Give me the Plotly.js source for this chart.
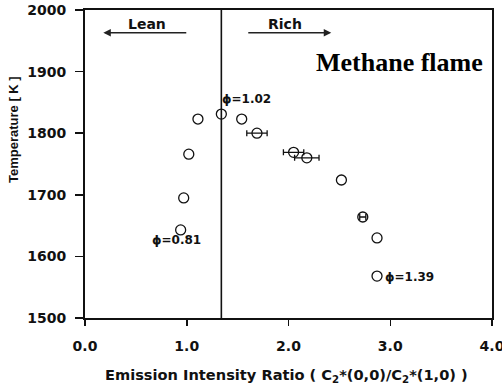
<!DOCTYPE html>
<html>
<head>
<meta charset="utf-8">
<script src="https://cdn.plot.ly/plotly-3.0.1.min.js"></script>
<style>
  html, body { margin: 0; padding: 0; background: #fff; }
  #chart { width: 502px; height: 392px; }
</style>
</head>
<body>
<div id="chart"></div>
<script>
// Emission intensity ratio C2*(0,0)/C2*(1,0) vs flame temperature, methane flame
const ratio = [0.94, 0.97, 1.02, 1.11, 1.34, 1.54, 1.69, 2.05, 2.18, 2.52, 2.73, 2.87, 2.87];
const temperature = [1643, 1695, 1766, 1823, 1831, 1823, 1800, 1769, 1760, 1724, 1664, 1630, 1568];
const ratioErr = [0, 0, 0, 0, 0, 0, 0.10, 0.10, 0.12, 0, 0.03, 0, 0];

// stoichiometric boundary between lean and rich mixtures
const stoichRatio = 1.34;

// equivalence-ratio labels
const phiLabels = ['\u03d5=0.81', '\u03d5=1.02', '\u03d5=1.39'];
const phiX = [0.90, 1.59, 3.19];
const phiY = [1627, 1856, 1567];

const xTicks = [0, 1, 2, 3, 4];
const xTickText = ['0.0', '1.0', '2.0', '3.0', '4.0'];
const yTicks = [1500, 1600, 1700, 1800, 1900, 2000];

const heavy = 'DejaVu Sans, Verdana, sans-serif';
const tickFont = { family: heavy, size: 14, color: '#111' };
const labelFont = { family: heavy, size: 12, color: '#111' };

// points with and without horizontal error bars
const withErr = ratio.map((_, i) => i).filter(i => ratioErr[i] > 0);
const noErr = ratio.map((_, i) => i).filter(i => !(ratioErr[i] > 0));
const marker = { symbol: 'circle-open', size: 10, color: '#111', line: { width: 1.3, color: '#111' } };

const traces = [
  {
    x: noErr.map(i => ratio[i]), y: noErr.map(i => temperature[i]),
    type: 'scatter', mode: 'markers', marker: marker
  },
  {
    x: withErr.map(i => ratio[i]), y: withErr.map(i => temperature[i]),
    type: 'scatter', mode: 'markers', marker: marker,
    error_x: { type: 'data', array: withErr.map(i => ratioErr[i]), visible: true,
               color: '#111', thickness: 1.3, width: 3 }
  }
];

const annotations = phiLabels.map((t, i) => ({
  x: phiX[i], y: phiY[i], xref: 'x', yref: 'y', xanchor: 'center', yanchor: 'middle',
  text: '<b>' + t + '</b>', showarrow: false, font: labelFont
}));

const W = 502, H = 392, mL = 85, mR = 10, mT = 10, mB = 74;
const pw = W - mL - mR, ph = H - mT - mB;

annotations.push(
  // lean side arrow
  { x: 0.18, y: 1963, ax: 1.01, ay: 1963, xref: 'x', yref: 'y', axref: 'x', ayref: 'y',
    text: '', showarrow: true, arrowhead: 2, arrowsize: 1, arrowwidth: 1.5, arrowcolor: '#222' },
  { x: 0.61, y: 1978, xref: 'x', yref: 'y', xanchor: 'center', yanchor: 'middle',
    text: '<b>Lean</b>', showarrow: false, font: { family: heavy, size: 14, color: '#111' } },
  // rich side arrow
  { x: 2.42, y: 1963, ax: 1.59, ay: 1963, xref: 'x', yref: 'y', axref: 'x', ayref: 'y',
    text: '', showarrow: true, arrowhead: 2, arrowsize: 1, arrowwidth: 1.5, arrowcolor: '#222' },
  { x: 1.97, y: 1978, xref: 'x', yref: 'y', xanchor: 'center', yanchor: 'middle',
    text: '<b>Rich</b>', showarrow: false, font: { family: heavy, size: 14, color: '#111' } },
  { x: 3.93, y: 1914, xref: 'x', yref: 'y', xanchor: 'right', yanchor: 'middle',
    text: '<b>Methane flame</b>', showarrow: false,
    font: { family: 'Liberation Serif, Times New Roman, serif', size: 26, color: '#000' } },
  // axis titles
  { x: (13 - mL) / pw, y: (H - mB - 130) / ph, xref: 'paper', yref: 'paper',
    xanchor: 'center', yanchor: 'middle',
    text: '<b>Temperature [ K ]</b>', textangle: -90, showarrow: false,
    font: { family: 'Liberation Sans, Arial, sans-serif', size: 13, color: '#111' } },
  { x: (286 - mL) / pw, y: (H - mB - 375) / ph, xref: 'paper', yref: 'paper',
    xanchor: 'center', yanchor: 'middle',
    text: '<b>Emission Intensity Ratio ( C<sub>2</sub>*(0,0)/C<sub>2</sub>*(1,0) )</b>',
    showarrow: false, font: { family: heavy, size: 14.6, color: '#111' } }
);

const layout = {
  width: W, height: H,
  margin: { l: mL, r: mR, t: mT, b: mB },
  paper_bgcolor: '#fff', plot_bgcolor: '#fff',
  showlegend: false,
  xaxis: {
    range: [0, 4], tickvals: xTicks, ticktext: xTickText.map(t => '<b>' + t + '</b>'),
    ticks: 'outside', ticklen: 6, tickwidth: 1.5, tickcolor: '#111',
    ticklabelstandoff: 8, ticklabeloverflow: 'allow',
    showline: true, linewidth: 2, linecolor: '#111', mirror: true,
    showgrid: false, zeroline: false, tickfont: tickFont
  },
  yaxis: {
    range: [1500, 2000], tickvals: yTicks, ticktext: yTicks.map(t => '<b>' + t + '</b>'),
    ticks: 'outside', ticklen: 8, tickwidth: 1.5, tickcolor: '#111',
    ticklabelstandoff: 6, ticklabeloverflow: 'allow',
    showline: true, linewidth: 2, linecolor: '#111', mirror: true,
    showgrid: false, zeroline: false, tickfont: tickFont
  },
  shapes: [
    { type: 'line', xref: 'x', yref: 'y', x0: stoichRatio, x1: stoichRatio, y0: 1500, y1: 2000,
      line: { color: '#111', width: 1.6 } }
  ],
  annotations: annotations
};

Plotly.newPlot('chart', traces, layout, { displayModeBar: false, staticPlot: true });
</script>
</body>
</html>
